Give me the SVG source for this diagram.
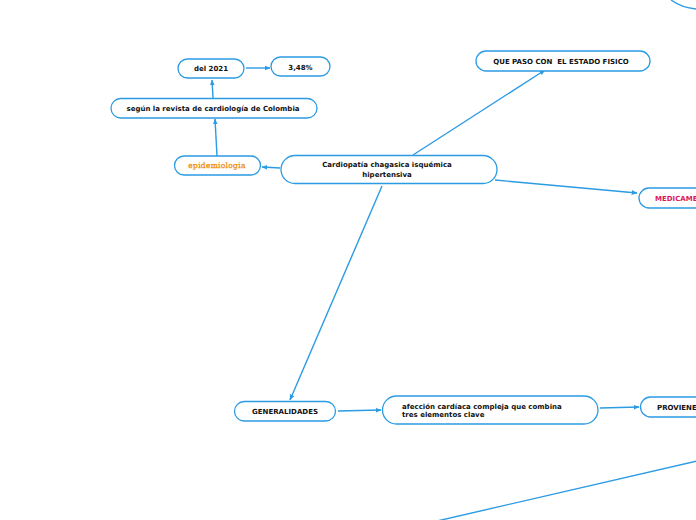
<svg xmlns="http://www.w3.org/2000/svg" width="696" height="520" viewBox="0 0 696 520">
<style>
.n{fill:#fff;stroke:#2b9be3;stroke-width:1.3}
.t{font-family:"DejaVu Sans",Verdana,sans-serif;font-weight:bold;font-size:7px;fill:#111}
.c{stroke:#2b9be3;stroke-width:1.4;fill:none}
</style>
<defs>
<marker id="a" viewBox="0 0 10 10" refX="9" refY="5" markerWidth="6" markerHeight="6" orient="auto" markerUnits="userSpaceOnUse">
<path d="M0 1 L10 5 L0 9 Z" fill="#2b9be3"/>
</marker>
</defs>
<g id="connectors">
<line class="c" x1="413" y1="155" x2="545" y2="70" marker-end="url(#a)"/>
<line class="c" x1="495" y1="180" x2="637" y2="193" marker-end="url(#a)"/>
<line class="c" x1="382" y1="186" x2="290" y2="400" marker-end="url(#a)"/>
<line class="c" x1="280" y1="168" x2="262" y2="167" marker-end="url(#a)"/>
<line class="c" x1="217" y1="156" x2="215" y2="119" marker-end="url(#a)"/>
<line class="c" x1="213" y1="98" x2="212" y2="80" marker-end="url(#a)"/>
<line class="c" x1="246" y1="68" x2="270" y2="68" marker-end="url(#a)"/>
<line class="c" x1="338" y1="411" x2="381" y2="410" marker-end="url(#a)"/>
<line class="c" x1="600" y1="408" x2="639" y2="407" marker-end="url(#a)"/>
<line class="c" x1="697" y1="461" x2="437" y2="521"/>
<path class="c" d="M671 0 Q682 8 697 9"/>
</g>
<g id="central">
<rect class="n" x="281" y="155.5" width="216" height="28" rx="14"/>
<text class="t" x="387" y="167" text-anchor="middle">Cardiopatía chagasica isquémica</text>
<text class="t" x="387" y="177" text-anchor="middle">hipertensiva</text>
</g>
<g id="quepaso">
<rect class="n" x="476" y="51" width="174" height="20" rx="10"/>
<text class="t" x="561" y="63.5" text-anchor="middle" style="white-space:pre">QUE PASO CON  EL ESTADO FISICO</text>
</g>
<g id="medicame">
<rect class="n" x="639" y="188" width="70" height="20" rx="10"/>
<text class="t" x="655" y="200.5" style="fill:#e0185a">MEDICAME</text>
</g>
<g id="epidemiologia">
<rect class="n" x="174.5" y="156" width="86" height="19" rx="9.5"/>
<text x="217" y="168" text-anchor="middle" style="font-family:'DejaVu Serif',serif;font-size:7.5px;fill:#ec8f0c;stroke:#ec8f0c;stroke-width:0.3;letter-spacing:0.3px">epidemiologia</text>
</g>
<g id="segun">
<rect class="n" x="111" y="98.5" width="206" height="19.5" rx="9.75"/>
<text class="t" x="213" y="110.5" text-anchor="middle">según la revista de cardiología de Colombia</text>
</g>
<g id="del2021">
<rect class="n" x="178" y="59" width="66" height="19" rx="9.5"/>
<text class="t" x="211" y="71" text-anchor="middle">del 2021</text>
</g>
<g id="pct">
<rect class="n" x="271" y="57" width="59" height="19" rx="9.5"/>
<text class="t" x="300.5" y="69.5" text-anchor="middle">3,48%</text>
</g>
<g id="generalidades">
<rect class="n" x="234.5" y="401.5" width="101" height="19.5" rx="9.75"/>
<text class="t" x="285" y="414" text-anchor="middle">GENERALIDADES</text>
</g>
<g id="afeccion">
<rect class="n" x="382.5" y="396" width="215.5" height="28" rx="14"/>
<text class="t" x="402" y="408.5">afección cardíaca compleja que combina</text>
<text class="t" x="402" y="417">tres elementos clave</text>
</g>
<g id="proviene">
<rect class="n" x="640.5" y="397" width="70" height="20" rx="10"/>
<text class="t" x="657" y="410">PROVIENE</text>
</g>
</svg>
